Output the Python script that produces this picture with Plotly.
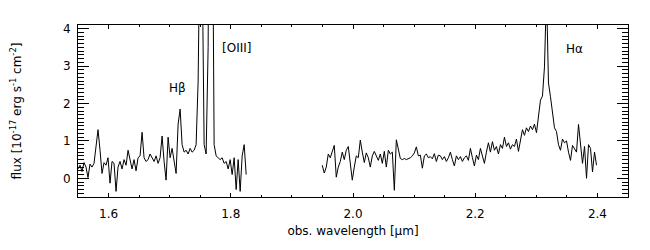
import numpy as np
import plotly.graph_objects as go

# Segment 1 (H band): wavelength limits and flux samples
seg1_start, seg1_end = 1.550, 1.8252
seg1_flux = [0.25, 0.35, 0.18, 0.42, 0.30, 0.02, 0.38, 0.30, 0.40, 0.78,
             1.30, 0.75, 0.13, 0.42, 0.35, 0.55, -0.13, 0.45, 0.40, -0.35,
             0.30, 0.45, 0.25, 0.50, 0.35, 0.75, 0.45, 0.25, 0.50, 0.20,
             0.55, 0.60, 1.23, 0.55, 0.45, 0.50, 0.65, 0.55, 0.45, 0.60,
             0.40, 0.55, 1.13, 0.45, -0.05, 1.10, 0.55, 0.80, 0.50, 0.13,
             1.45, 1.85, 0.90, 0.70, 0.75, 0.65, 0.80, 0.70, 0.75, 0.90,
             2.60, 7.00, 6.00, 0.90, 0.65, 3.50, 14.0, 9.00, 0.90, 0.60,
             0.55, 0.50, 0.55, 0.40, 0.45, 0.25, 0.50, 0.10, 0.55, -0.30,
             0.50, -0.35, 0.60, 0.90, 0.10]

# Segment 2 (K band)
seg2_start, seg2_end = 1.9497, 2.3985
seg2_flux = [0.35, 0.14, 0.30, 0.65, 0.55, 0.75, 0.88, 0.03, 0.30, 0.45,
             0.70, 0.50, 0.75, 0.85, 0.45, -0.05, 0.30, 0.60, 0.55, 1.02,
             0.70, 0.42, 0.68, 0.55, 0.30, 0.60, 0.72, 0.60, 0.48, 0.65,
             0.40, 0.72, 0.30, 0.75, 0.65, 0.70, -0.32, 1.03, 0.75, 0.53,
             0.50, 0.53, 0.50, 0.52, 0.55, 0.60, 0.68, 0.84, 0.60, 0.62,
             0.27, 0.60, 0.65, 0.55, 0.58, 0.52, 0.66, 0.45, 0.62, 0.60,
             0.50, 0.58, 0.45, 0.55, 0.70, 0.50, 0.33, 0.60, 0.50, 0.58,
             0.45, 0.55, 0.60, 0.48, 0.80, 0.55, 0.33, 0.62, 0.50, 0.80,
             0.60, 0.40, 0.70, 0.95, 0.70, 0.98, 0.75, 0.85, 0.65, 0.90,
             0.80, 1.10, 0.85, 0.95, 0.78, 0.90, 0.85, 1.05, 0.72, 1.00,
             1.30, 1.15, 1.35, 1.25, 1.40, 1.30, 1.45, 1.22, 1.60, 2.09,
             2.20, 2.98, 5.00, 2.55, 2.18, 1.75, 1.35, 1.25, 0.90, 0.75,
             1.05, 0.95, 1.00, 0.70, 0.48, 0.88, 0.78, 0.70, 1.44, 1.00,
             0.40, 0.85, 0.00, 0.90, 0.80, 0.17, 0.70, 0.35]

line_labels = ["H&#946;", "[OIII]", "H&#945;"]
label_x = [1.712, 1.809, 2.3625]
label_y = [2.41, 3.49, 3.46]

x_range = [1.55, 2.45]
y_range = [-0.5, 4.1]

wl1 = np.linspace(seg1_start, seg1_end, len(seg1_flux))
wl2 = np.linspace(seg2_start, seg2_end, len(seg2_flux))

fig = go.Figure()
for wl, fl in [(wl1, seg1_flux), (wl2, seg2_flux)]:
    fig.add_trace(go.Scatter(x=wl, y=fl, mode="lines",
                             line=dict(color="black", width=1),
                             showlegend=False, hoverinfo="skip"))

for t, xv, yv in zip(line_labels, label_x, label_y):
    fig.add_annotation(x=xv, y=yv, text=t, showarrow=False,
                       font=dict(size=12, color="black"))

font = "DejaVu Sans, Liberation Sans, Arial, sans-serif"
fig.update_layout(
    width=642, height=242,
    margin=dict(l=70, r=22, t=17, b=53, autoexpand=False),
    paper_bgcolor="white", plot_bgcolor="white",
    font=dict(family=font, size=12, color="black"),
)
fig.update_xaxes(
    range=x_range, showgrid=False, zeroline=False,
    showline=True, linecolor="black", linewidth=1, mirror="ticks",
    ticks="inside", ticklen=4, tickcolor="black", tickwidth=1,
    dtick=0.2, tick0=0, tickformat=".1f",
    minor=dict(ticks="inside", ticklen=2, dtick=0.05, tickcolor="black", showgrid=False),
    ticklabelstandoff=6,
    title=dict(text="obs. wavelength [&#956;m]", standoff=6, font=dict(size=12)),
)
fig.update_yaxes(
    range=y_range, showgrid=False, zeroline=False,
    showline=True, linecolor="black", linewidth=1, mirror="ticks",
    ticks="inside", ticklen=11, tickcolor="black", tickwidth=1,
    dtick=1, tick0=0,
    minor=dict(ticks="inside", ticklen=6, dtick=0.1, tickcolor="black", showgrid=False),
    ticklabelstandoff=4,
    title=dict(text="flux [10<sup>-17</sup> erg s<sup>-1</sup> cm<sup>-2</sup>]",
               standoff=38, font=dict(size=12)),
)

fig.write_html("out.html")
